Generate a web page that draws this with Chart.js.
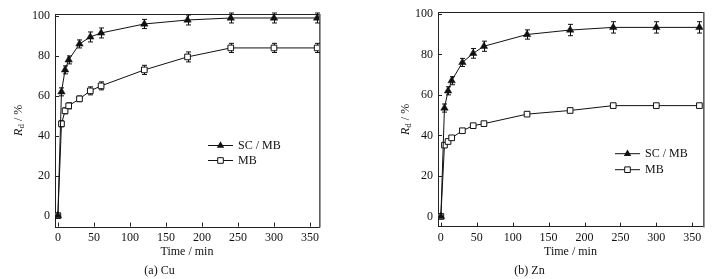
<!DOCTYPE html>
<html>
<head>
<meta charset="utf-8">
<script src="https://cdn.jsdelivr.net/npm/chart.js@4/dist/chart.umd.min.js"></script>
<style>
html,body{margin:0;padding:0;background:#fff;}
#wrap{position:relative;width:713px;height:279px;overflow:hidden;}
#c1{position:absolute;left:0;top:0;}
#c2{position:absolute;left:356px;top:0;}
</style>
</head>
<body>
<div id="wrap">
<canvas id="c1" width="356" height="279"></canvas>
<canvas id="c2" width="357" height="279"></canvas>
</div>
<script>
// ---- data ----
const times = [0, 5, 10, 15, 30, 45, 60, 120, 180, 240, 300, 360];
const seriesNames = ['SC / MB', 'MB'];
const cuSCMB    = [0, 62, 73, 78, 86, 89.5, 91.5, 96, 98, 99, 99, 99];
const cuSCMBErr = [0, 2, 2, 2, 2, 2.5, 2.5, 2.3, 2.5, 2.5, 2.5, 2.5];
const cuMB      = [0, 46, 52.5, 55, 58.5, 62.5, 65, 73, 79.5, 84, 84, 84];
const cuMBErr   = [0, 1.5, 1.5, 1.5, 1.4, 2, 2, 2.3, 2.5, 2.3, 2.3, 2.3];
const znSCMB    = [0, 53.5, 62, 67, 76, 80.5, 84, 89.8, 92, 93.3, 93.3, 93.3];
const znSCMBErr = [0, 2, 2, 2, 2, 2.4, 2.5, 2.3, 2.8, 2.8, 2.8, 2.8];
const znMB      = [0, 35.2, 37, 38.8, 42.3, 44.8, 45.8, 50.5, 52.3, 54.7, 54.7, 54.7];
const znMBErr   = [0, 1, 1, 1, 1, 1, 1, 1, 1, 1, 1, 1];
const xTicks = [0, 50, 100, 150, 200, 250, 300, 350];
const yTicks = [0, 20, 40, 60, 80, 100];
const xTitle = 'Time / min';
const captions = ['(a) Cu', '(b) Zn'];

const FONT = "'Liberation Serif', 'Times New Roman', serif";
const INK = '#111';

function pts(vals){ return times.map((t,i)=>({x:t, y:vals[i]})); }

const errorBars = {
  id:'errorBars',
  beforeDatasetsDraw(chart){
    const ctx = chart.ctx, ys = chart.scales.y;
    ctx.save();
    ctx.strokeStyle = INK; ctx.lineWidth = 1;
    chart.data.datasets.forEach((ds, di)=>{
      const meta = chart.getDatasetMeta(di);
      meta.data.forEach((el, i)=>{
        const e = ds.errors[i]; if(!e) return;
        const v = ds.data[i].y;
        const x = Math.round(el.x)+0.5;
        const y1 = ys.getPixelForValue(v+e), y2 = ys.getPixelForValue(v-e);
        ctx.beginPath();
        ctx.moveTo(x, y1); ctx.lineTo(x, y2);
        ctx.moveTo(x-2.5, y1); ctx.lineTo(x+2.5, y1);
        ctx.moveTo(x-2.5, y2); ctx.lineTo(x+2.5, y2);
        ctx.stroke();
      });
    });
    ctx.restore();
  }
};

const frameTicks = {
  id:'frameTicks',
  beforeDatasetsDraw(chart){
    const {ctx, chartArea:a, scales:{x, y}} = chart;
    ctx.save();
    ctx.strokeStyle = '#222'; ctx.lineWidth = 1;
    ctx.strokeRect(Math.round(a.left)+0.5, Math.round(a.top)+0.5, Math.round(a.right-a.left), Math.round(a.bottom-a.top));
    ctx.strokeStyle = '#777'; ctx.lineWidth = 1.5;
    ctx.beginPath(); ctx.moveTo(Math.round(a.right)+1, a.top); ctx.lineTo(Math.round(a.right)+1, a.bottom+1); ctx.stroke();
    ctx.strokeStyle = '#222'; ctx.lineWidth = 1;
    ctx.beginPath();
    xTicks.forEach(v=>{ const px = Math.round(x.getPixelForValue(v))+0.5; ctx.moveTo(px, a.bottom); ctx.lineTo(px, a.bottom-4); });
    yTicks.forEach(v=>{ const py = Math.round(y.getPixelForValue(v))+0.5; ctx.moveTo(a.left, py); ctx.lineTo(a.left+4, py); });
    ctx.stroke();
    ctx.restore();
  }
};

function drawMarker(ctx, style, x, y){
  ctx.beginPath();
  if(style==='triangle'){
    ctx.moveTo(x, y-4.2); ctx.lineTo(x+3.7, y+2.3); ctx.lineTo(x-3.7, y+2.3); ctx.closePath();
    ctx.fillStyle = INK; ctx.fill();
  } else {
    ctx.rect(x-2.8, y-2.8, 5.6, 5.6);
    ctx.fillStyle = '#fff'; ctx.fill(); ctx.strokeStyle = INK; ctx.lineWidth = 1; ctx.stroke();
  }
}

function makeOverlay(opts){
  return {
    id:'overlay',
    afterDraw(chart){
      const {ctx, chartArea:a} = chart;
      ctx.save();
      // legend
      const styles = ['triangle','rect'];
      seriesNames.forEach((n, i)=>{
        const lx = a.left + opts.legX, ly = a.top + opts.legY + i*opts.legGap;
        ctx.strokeStyle = INK; ctx.lineWidth = 1;
        ctx.beginPath(); ctx.moveTo(lx, ly+0.5); ctx.lineTo(lx+25, ly+0.5); ctx.stroke();
        drawMarker(ctx, styles[i], lx+12.5, ly+0.5);
        ctx.fillStyle = INK; ctx.font = '12px ' + FONT; ctx.textBaseline = 'middle'; ctx.textAlign = 'left';
        ctx.fillText(n, lx+30, ly+1);
      });
      // y title: R_d / %
      const cx = opts.yTitleX, cy = (a.top + a.bottom)/2;
      ctx.translate(cx, cy); ctx.rotate(-Math.PI/2);
      ctx.fillStyle = INK; ctx.textBaseline = 'middle'; ctx.textAlign = 'left';
      const fR = 'italic 12px ' + FONT, fd = '9px ' + FONT, fr = '12px ' + FONT;
      ctx.font = fR; const wR = ctx.measureText('R').width;
      ctx.font = fd; const wd = ctx.measureText('d').width;
      ctx.font = fr; const wr = ctx.measureText(' / %').width;
      let sx = -(wR+wd+wr)/2;
      ctx.font = fR; ctx.fillText('R', sx, 0); sx += wR;
      ctx.font = fd; ctx.fillText('d', sx, 3); sx += wd;
      ctx.font = fr; ctx.fillText(' / %', sx, 0);
      ctx.restore();
    }
  };
}

function makeChart(id, scData, scErr, mbData, mbErr, caption, lay){
  return new Chart(document.getElementById(id), {
    type:'scatter',
    data:{
      datasets:[
        {label:seriesNames[0], data:pts(scData), errors:scErr, showLine:true, borderColor:INK, borderWidth:1,
         pointStyle:'triangle', pointRadius:4.3, pointBackgroundColor:INK, pointBorderColor:INK, pointBorderWidth:0.5, tension:0},
        {label:seriesNames[1], data:pts(mbData), errors:mbErr, showLine:true, borderColor:INK, borderWidth:1,
         pointStyle:'rect', pointRadius:4, pointBackgroundColor:'#fff', pointBorderColor:INK, pointBorderWidth:1, tension:0}
      ]
    },
    options:{
      responsive:false, animation:false, devicePixelRatio:1,
      layout:{padding:{left:0, right:lay.padR, top:lay.padT, bottom:0}},
      plugins:{
        legend:{display:false}, tooltip:{enabled:false},
        title:{display:true, text:caption, position:'bottom', color:INK, font:{family:FONT, size:12, weight:'normal'}, padding:{top:1, bottom:1}}
      },
      scales:{
        x:{type:'linear', min:-4, max:lay.xMax,
           afterFit(s){ s.height = 36; },
           afterBuildTicks(s){ s.ticks = xTicks.map(v=>({value:v})); },
           grid:{display:false, drawTicks:false}, border:{display:false},
           ticks:{color:INK, padding:4, font:{family:FONT, size:12}, maxRotation:0, autoSkip:false},
           title:{display:true, text:xTitle, color:INK, font:{family:FONT, size:12}, padding:{top:0, bottom:4}}},
        y:{type:'linear', min:lay.yMin, max:lay.yMax,
           afterFit(s){ s.width = lay.yW; },
           afterBuildTicks(s){ s.ticks = yTicks.map(v=>({value:v})); },
           grid:{display:false, drawTicks:false}, border:{display:false},
           ticks:{color:INK, padding:5, font:{family:FONT, size:12}}}
      }
    },
    plugins:[frameTicks, errorBars, makeOverlay(lay)]
  });
}

makeChart('c1', cuSCMB, cuSCMBErr, cuMB, cuMBErr, captions[0],
  {padR:37, padT:14, yW:55, xMax:362.5, yMin:-5.5, yMax:101, yTitleX:19, legX:153, legY:131, legGap:15});
makeChart('c2', znSCMB, znSCMBErr, znMB, znMBErr, captions[1],
  {padR:10, padT:12, yW:82, xMax:365, yMin:-5, yMax:100.8, yTitleX:50, legX:177, legY:141, legGap:16});
</script>
</body>
</html>
